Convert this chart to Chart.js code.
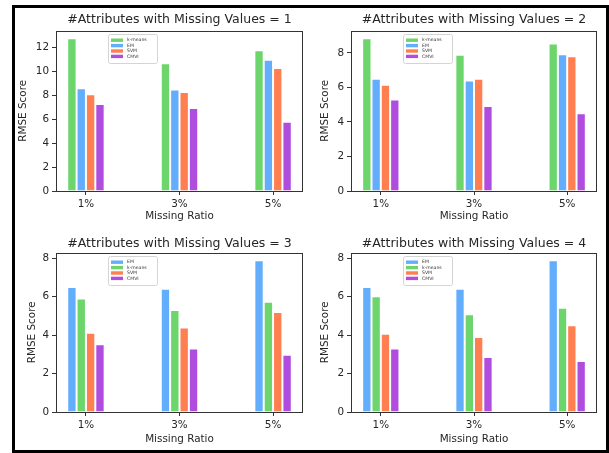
<!DOCTYPE html>
<html>
<head>
<meta charset="utf-8">
<script src="https://cdn.jsdelivr.net/npm/chart.js@4.4.1/dist/chart.umd.min.js"></script>
<style>
  html, body { margin: 0; padding: 0; background: #fff; }
  body { width: 609px; height: 453px; position: relative; overflow: hidden; }
  #frame { position: absolute; left: 12px; top: 5px; width: 597px; height: 448px; box-sizing: border-box; border: 3px solid #000; }
  canvas { position: absolute; }
</style>
</head>
<body>
<div id="frame"></div>
<canvas id="c1" width="305" height="226" style="left:0px;top:0px"></canvas>
<canvas id="c2" width="304" height="226" style="left:305px;top:0px"></canvas>
<canvas id="c3" width="305" height="227" style="left:0px;top:226px"></canvas>
<canvas id="c4" width="304" height="227" style="left:305px;top:226px"></canvas>
<script>
// ---- data ----
const categories = ['1%', '3%', '5%'];
const panelTitles = [
  '#Attributes with Missing Values = 1',
  '#Attributes with Missing Values = 2',
  '#Attributes with Missing Values = 3',
  '#Attributes with Missing Values = 4'
];
const xAxisTitle = 'Missing Ratio';
const yAxisTitle = 'RMSE Score';

const p1_kmeans = [12.8, 10.7, 11.8];
const p1_em     = [8.6, 8.5, 11.0];
const p1_svm    = [8.1, 8.3, 10.3];
const p1_cmvi   = [7.3, 6.95, 5.8];

const p2_kmeans = [8.85, 7.9, 8.55];
const p2_em     = [6.5, 6.4, 7.92];
const p2_svm    = [6.15, 6.5, 7.8];
const p2_cmvi   = [5.3, 4.93, 4.5];

const p3_em     = [6.5, 6.41, 7.9];
const p3_kmeans = [5.91, 5.31, 5.74];
const p3_svm    = [4.12, 4.4, 5.21];
const p3_cmvi   = [3.53, 3.31, 2.98];

const p4_em     = [6.5, 6.41, 7.9];
const p4_kmeans = [6.02, 5.09, 5.43];
const p4_svm    = [4.07, 3.9, 4.52];
const p4_cmvi   = [3.31, 2.86, 2.66];

// ---- styles ----
const COLORS = { 'k-means': '#6cd66c', 'EM': '#62aefc', 'SVM': '#ff7f50', 'CMVI': '#b04ddf' };
const FONT = 'DejaVu Sans';
const TXT = '#262626';

const framePlugin = {
  id: 'axesFrame',
  afterDatasetsDraw(chart) {
    const { ctx, chartArea: a } = chart;
    ctx.save();
    ctx.strokeStyle = '#333';
    ctx.lineWidth = 1;
    ctx.strokeRect(Math.round(a.left) + 0.5, Math.round(a.top) + 0.5,
                   Math.round(a.right) - Math.round(a.left) - 1, Math.round(a.bottom) - Math.round(a.top));
    ctx.restore();
  }
};

const legendPlugin = {
  id: 'innerLegend',
  afterDatasetsDraw(chart) {
    const { ctx, chartArea: a } = chart;
    const x = Math.round(a.left) + 52, y = Math.round(a.top) + 3, w = 49, h = 29;
    ctx.save();
    ctx.fillStyle = 'rgba(255,255,255,0.85)';
    ctx.strokeStyle = '#d4d4d4';
    ctx.lineWidth = 1;
    ctx.beginPath();
    if (ctx.roundRect) ctx.roundRect(x + 0.5, y + 0.5, w, h, 2); else ctx.rect(x + 0.5, y + 0.5, w, h);
    ctx.fill();
    ctx.stroke();
    ctx.font = '4.6px "' + FONT + '"';
    ctx.textBaseline = 'middle';
    ctx.textAlign = 'left';
    chart.data.datasets.forEach((ds, i) => {
      const cy = y + 6.2 + i * 5.4;
      ctx.fillStyle = ds.backgroundColor;
      ctx.fillRect(x + 3, cy - 1.7, 12, 3.4);
      ctx.fillStyle = '#333';
      ctx.fillText(ds.label, x + 19, cy);
    });
    ctx.restore();
  }
};

function makeChart(id, title, series, cfg) {
  const allVals = series.flatMap(s => s.data);
  const yMax = Math.max(...allVals) * 1.05;
  const datasets = series.map(s => ({
    label: s.label,
    data: s.data.map((v, i) => ({ x: i, y: v })),
    backgroundColor: COLORS[s.label],
    borderColor: '#ffffff',
    borderWidth: 1,
    categoryPercentage: 0.4,
    barPercentage: 1.0
  }));
  new Chart(document.getElementById(id), {
    type: 'bar',
    data: { datasets },
    plugins: [framePlugin, legendPlugin],
    options: {
      responsive: false,
      animation: false,
      devicePixelRatio: 1,
      layout: { padding: { left: 0, right: cfg.padRight, top: 0, bottom: 0 } },
      plugins: {
        legend: { display: false },
        tooltip: { enabled: false },
        title: {
          display: true,
          text: title,
          fullSize: false,
          color: TXT,
          font: { family: FONT, size: 12.5, weight: 'normal', lineHeight: 1.2 },
          padding: { top: cfg.titleTop, bottom: cfg.titleBottom }
        }
      },
      scales: {
        x: {
          type: 'linear',
          min: -0.32,
          max: 2.32,
          offset: false,
          afterBuildTicks: (scale) => { scale.ticks = categories.map((c, i) => ({ value: i })); },
          afterFit: (scale) => { scale.height = cfg.xHeight; },
          grid: { display: true, drawOnChartArea: false, drawTicks: true, tickLength: 4, color: '#333', offset: false },
          border: { display: false },
          ticks: {
            color: TXT, padding: 3, maxRotation: 0, autoSkip: false,
            font: { family: FONT, size: 10.4 },
            callback: (v) => categories[v]
          },
          title: {
            display: true, text: xAxisTitle, color: TXT,
            font: { family: FONT, size: 10.4 },
            padding: { top: 0, bottom: cfg.xTitleBottom }
          }
        },
        y: {
          type: 'linear',
          min: 0,
          max: yMax,
          afterFit: (scale) => { scale.width = cfg.yWidth; },
          grid: { display: true, drawOnChartArea: false, drawTicks: true, tickLength: 4, color: '#333' },
          border: { display: false },
          ticks: {
            stepSize: 2, includeBounds: false, color: TXT, padding: 3,
            font: { family: FONT, size: 10.4 }
          },
          title: {
            display: true, text: yAxisTitle, color: TXT,
            font: { family: FONT, size: 10.4 },
            padding: { top: cfg.yTitleTop, bottom: 0 }
          }
        }
      }
    }
  });
}

const topCfgL = { padRight: 2, titleTop: 12, titleBottom: 3.6, xHeight: 35, xTitleBottom: 3, yWidth: 56, yTitleTop: 17 };
const topCfgR = { padRight: 12, titleTop: 12, titleBottom: 3.6, xHeight: 35, xTitleBottom: 3, yWidth: 46, yTitleTop: 14 };
const botCfgL = { padRight: 2, titleTop: 10, titleBottom: 1.6, xHeight: 41, xTitleBottom: 7.7, yWidth: 56, yTitleTop: 25.7 };
const botCfgR = { padRight: 12, titleTop: 10, titleBottom: 1.6, xHeight: 41, xTitleBottom: 7.7, yWidth: 46, yTitleTop: 14 };

makeChart('c1', panelTitles[0], [
  { label: 'k-means', data: p1_kmeans }, { label: 'EM', data: p1_em },
  { label: 'SVM', data: p1_svm }, { label: 'CMVI', data: p1_cmvi }
], topCfgL);
makeChart('c2', panelTitles[1], [
  { label: 'k-means', data: p2_kmeans }, { label: 'EM', data: p2_em },
  { label: 'SVM', data: p2_svm }, { label: 'CMVI', data: p2_cmvi }
], topCfgR);
makeChart('c3', panelTitles[2], [
  { label: 'EM', data: p3_em }, { label: 'k-means', data: p3_kmeans },
  { label: 'SVM', data: p3_svm }, { label: 'CMVI', data: p3_cmvi }
], botCfgL);
makeChart('c4', panelTitles[3], [
  { label: 'EM', data: p4_em }, { label: 'k-means', data: p4_kmeans },
  { label: 'SVM', data: p4_svm }, { label: 'CMVI', data: p4_cmvi }
], botCfgR);
</script>
</body>
</html>
